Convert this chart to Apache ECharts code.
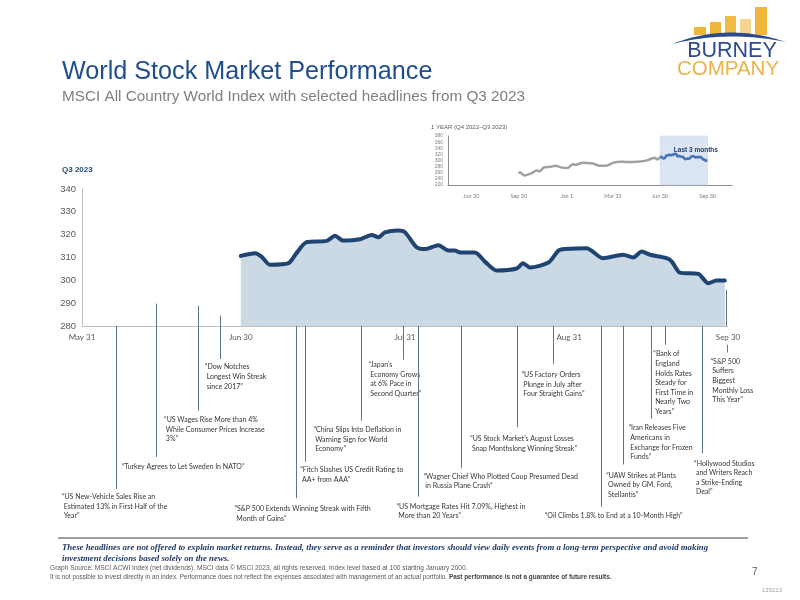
<!DOCTYPE html>
<html><head><meta charset="utf-8">
<script src="https://cdn.jsdelivr.net/npm/echarts@6/dist/echarts.min.js"></script>
<style>html,body{margin:0;padding:0;background:#fff}#c{width:800px;height:600px}</style>
</head><body><div id="c"></div>
<script>
// ---- Q3 2023 daily index level (day 0 = May 31, 2023) ----
const q3Days = [30, 32.7, 33.9, 35.5, 39, 40.5, 42.4, 46.2, 47.8, 49.3, 52.5, 54.7, 56, 57.2, 59.7, 61, 63.2, 64.8, 67.3, 69.2, 70.4, 71.4, 74.2, 76.1, 78.3, 82.1, 83.3, 84.6, 88.1, 90, 91.2, 95.3, 98.4, 102.2, 104.1, 105.7, 107.3, 110.4, 111.4, 112.9, 116.4, 118.3, 119.8, 121.4];
const q3Values = [310.7, 311.9, 310.4, 306.8, 307.5, 311.9, 316.7, 317.3, 319.5, 317.4, 318, 319.9, 318.9, 321, 321.8, 321, 314.5, 313.7, 315.4, 313.1, 313.1, 312.2, 312.2, 308.2, 304.3, 305.2, 307.5, 305.6, 307.8, 313.1, 313.7, 314.1, 309.7, 311.2, 310, 312.6, 311.2, 309.7, 308.2, 303.4, 302.8, 298.7, 299.9, 299.9];
const mainTickDays = [0, 30, 61, 92, 122];
const mainTickLabels = ['May 31', 'Jun 30', 'Jul 31', 'Aug 31', 'Sep 30'];

// ---- 1 year inset (day 0 = Jun 30, 2022) ----
const yearDays = [92, 94, 102, 117, 126, 133, 140, 153, 164, 173, 186, 196, 202, 215, 235, 248, 261, 275, 288, 301, 321, 340, 354, 360, 365];
const yearValues = [256.6, 262, 251.3, 258.7, 267, 265, 277.5, 279.6, 282.7, 277.5, 275.4, 288, 285.8, 293, 290, 282.7, 282.7, 293, 296.3, 295, 296.3, 300.5, 308.9, 303.6, 310.7];
const q3OffsetInYear = 335; // May 31, 2023 in inset days
const insetTickDays = [0, 92, 185, 274, 365, 457];
const insetTickLabels = ['Jun 30', 'Sep 30', 'Jan 1', 'Mar 31', 'Jun 30', 'Sep 30'];
const last3Months = [365, 457];

// ---- headlines ----
const headlines = [
  '\u201cUS New-Vehicle Sales Rise an\n Estimated 13% in First Half of the\n Year\u201d',
  '\u201cTurkey Agrees to Let Sweden In NATO\u201d',
  '\u201cUS Wages Rise More than 4%\n While Consumer Prices Increase\n 3%\u201d',
  '\u201cDow Notches\n Longest Win Streak\n since 2017\u201d',
  '\u201cS&P 500 Extends Winning Streak with Fifth\n Month of Gains\u201d',
  '\u201cFitch Slashes US Credit Rating to\n AA+ from AAA\u201d',
  '\u201cChina Slips Into Deflation in\n Warning Sign for World\n Economy\u201d',
  '\u201cJapan\u2019s\n Economy Grows\n at 6% Pace in\n Second Quarter\u201d',
  '\u201cUS Mortgage Rates Hit 7.09%, Highest in\n More than 20 Years\u201d',
  '\u201cWagner Chief Who Plotted Coup Presumed Dead\n in Russia Plane Crash\u201d',
  '\u201cUS Stock Market\u2019s August Losses\n Snap Monthslong Winning Streak\u201d',
  '\u201cUS Factory Orders\n Plunge in July after\n Four Straight Gains\u201d',
  '\u201cOil Climbs 1.8% to End at a 10-Month High\u201d',
  '\u201cUAW Strikes at Plants\n Owned by GM, Ford,\n Stellantis\u201d',
  '\u201cIran Releases Five\n Americans in\n Exchange for Frozen\n Funds\u201d',
  '\u201cBank of\n England\n Holds Rates\n Steady for\n First Time in\n Nearly Two\n Years\u201d',
  '\u201cHollywood Studios\n and Writers Reach\n a Strike-Ending\n Deal\u201d',
  '\u201cS&P 500\n Suffers\n Biggest\n Monthly Loss\n This Year\u201d',
  ''
];
const headlineDays = [6.4, 14.0, 22.0, 26.0, 40.5, 42.2, 52.7, 60.6, 63.4, 71.6, 82.1, 88.9, 98.0, 102.2, 107.5, 110.1, 117.1, 121.8, 121.6];
// leader line extents and label anchors, expressed on the chart's own scales
const leaderTop = [280, 289.7, 288.8, 284.5, 280, 280, 280, 280, 280, 280, 280, 280, 280, 280, 280, 280, 280, 271.7, 295.8];
const leaderBottom = [208.4, 222.5, 242.7, 265.4, 204.4, 220.4, 238.4, 265.1, 205.1, 217.5, 235.5, 263.3, 200.7, 219.2, 239.2, 271.7, 224.1, 268.3, 280];
const labelAtDay = [-3.8, 7.5, 15.5, 23.2, 28.8, 41.2, 43.7, 54.1, 59.4, 64.5, 73.3, 83.0, 87.4, 99.0, 103.2, 107.9, 115.6, 118.7, 0];
const labelAtLevel = [207.1, 220.3, 240.8, 264.0, 201.8, 218.9, 236.5, 265.0, 202.8, 216.0, 232.5, 260.6, 198.7, 216.4, 237.2, 269.7, 221.8, 266.4, 0];

const chart = echarts.init(document.getElementById('c'), null, {renderer: 'canvas'});

const annoData = headlineDays.map((d, i) => [d, leaderTop[i], leaderBottom[i], labelAtDay[i], labelAtLevel[i]]);

// logo swoosh (decoration)
function swoosh() {
  const pts = [];
  const q = (a, b, c, t) => (1 - t) * (1 - t) * a + 2 * (1 - t) * t * b + t * t * c;
  for (let k = 0; k <= 24; k++) { const t = k / 24; pts.push([q(672, 728, 786, t), q(44, 22, 42, t)]); }
  for (let k = 24; k >= 0; k--) { const t = k / 24; pts.push([q(672, 728, 786, t), q(44, 30, 42, t)]); }
  return pts;
}

const option = {
  backgroundColor: '#ffffff',
  animation: false,
  grid: [
    {left: 82, top: 189, width: 646, height: 137},
    {left: 82, top: 189, width: 646, height: 342},
    {left: 448, top: 136, width: 284, height: 49}
  ],
  xAxis: [
    {gridIndex: 0, type: 'value', min: 0, max: 122,
     axisLine: {onZero: false, lineStyle: {color: '#bfbfbf', width: 1}},
     axisTick: {show: false}, splitLine: {show: false},
     axisLabel: {customValues: mainTickDays, formatter: v => mainTickLabels[mainTickDays.indexOf(v)] || '',
                 color: '#595959', fontFamily: 'Lato', fontSize: 8, margin: 7}},
    {gridIndex: 1, type: 'value', min: 0, max: 122, show: false},
    {gridIndex: 2, type: 'value', min: -45, max: 504,
     axisLine: {onZero: false, lineStyle: {color: '#8c8c8c', width: 1}},
     axisTick: {show: false}, splitLine: {show: false},
     axisLabel: {customValues: insetTickDays, formatter: (v) => insetTickLabels[insetTickDays.indexOf(v)] || '',
                 color: '#7f7f7f', fontFamily: 'Lato', fontSize: 5.5, margin: 8}}
  ],
  yAxis: [
    {gridIndex: 0, type: 'value', min: 280, max: 340, interval: 10,
     axisLine: {show: true, onZero: false, lineStyle: {color: '#bfbfbf', width: 1}},
     axisTick: {show: false}, splitLine: {show: false},
     axisLabel: {color: '#595959', fontFamily: 'Liberation Sans', fontSize: 9.5, margin: 6}},
    {gridIndex: 1, type: 'value', min: 190, max: 340, show: false},
    {gridIndex: 2, type: 'value', min: 220, max: 380, interval: 20,
     axisLine: {show: true, onZero: false, lineStyle: {color: '#8c8c8c', width: 1}},
     axisTick: {show: false}, splitLine: {show: false},
     axisLabel: {color: '#7f7f7f', fontFamily: 'Liberation Sans', fontSize: 5, margin: 5}}
  ],
  series: [
    {type: 'line', xAxisIndex: 0, yAxisIndex: 0, symbol: 'none', smooth: 0.25,
     data: q3Days.map((d, i) => [d, q3Values[i]]),
     lineStyle: {color: '#1f4471', width: 4, cap: 'round', join: 'round'},
     areaStyle: {color: '#cad9e4', opacity: 1, origin: 'start'}, z: 3},
    {type: 'custom', xAxisIndex: 1, yAxisIndex: 1, clip: false, z: 5,
     data: annoData,
     renderItem: function (params, api) {
       const i = params.dataIndex;
       const p1 = api.coord([api.value(0), api.value(1)]);
       const p2 = api.coord([api.value(0), api.value(2)]);
       const children = [{type: 'line', shape: {x1: Math.round(p1[0]) + 0.5, y1: p1[1], x2: Math.round(p2[0]) + 0.5, y2: p2[1]},
                          style: {stroke: '#5f7485', lineWidth: 1}}];
       if (headlines[i]) {
         const t = api.coord([api.value(3), api.value(4)]);
         children.push({type: 'text', x: t[0], y: t[1],
           style: {text: headlines[i], fill: '#363636', font: '7px Lato', lineHeight: 9.6,
                   align: 'left', verticalAlign: 'top'}});
       }
       return {type: 'group', children: children};
     }},
    {type: 'line', xAxisIndex: 2, yAxisIndex: 2, symbol: 'none', smooth: 0.2,
     data: yearDays.map((d, i) => [d, yearValues[i]]),
     lineStyle: {color: '#a0a0a0', width: 2.5}},
    {type: 'line', xAxisIndex: 2, yAxisIndex: 2, symbol: 'none', smooth: 0.2,
     data: q3Days.map((d, i) => [d + q3OffsetInYear, q3Values[i]]),
     lineStyle: {color: '#4472b4', width: 2.5},
     markArea: {silent: true, itemStyle: {color: '#dbe5f1', borderColor: '#c6d5e8', borderWidth: 0.5},
       label: {show: true, position: 'insideTopLeft', offset: [9, 6], formatter: 'Last 3 months',
               color: '#1f3f73', fontWeight: 'bold', fontFamily: 'Liberation Sans', fontSize: 6.5},
       data: [[{xAxis: last3Months[0]}, {xAxis: last3Months[1]}]]}}
  ],
  graphic: [
    {type: 'text', x: 62, y: 72, style: {text: 'World Stock Market Performance', font: '25.2px "Liberation Sans"', fill: '#1f4e8f', verticalAlign: 'middle'}},
    {type: 'text', x: 62, y: 97, style: {text: 'MSCI All Country World Index with selected headlines from Q3 2023', font: '15.3px "Liberation Sans"', fill: '#7f7f7f', verticalAlign: 'middle'}},
    {type: 'text', x: 62, y: 170, style: {text: 'Q3 2023', font: 'bold 8px "Liberation Sans"', fill: '#1f4e79', verticalAlign: 'middle'}},
    {type: 'text', x: 431, y: 127, style: {text: '1 YEAR (Q4 2022\u2013Q3 2023)', font: '6px "Liberation Sans"', fill: '#595959', verticalAlign: 'middle'}},
    // logo
    {type: 'rect', shape: {x: 694, y: 27, width: 12, height: 8}, style: {fill: '#efb63a'}},
    {type: 'rect', shape: {x: 710, y: 22, width: 11, height: 13}, style: {fill: '#efb63a'}},
    {type: 'rect', shape: {x: 725, y: 16, width: 11, height: 19}, style: {fill: '#f0ba45'}},
    {type: 'rect', shape: {x: 740, y: 19, width: 11, height: 16}, style: {fill: '#f6d590'}},
    {type: 'rect', shape: {x: 755, y: 7, width: 12, height: 28}, style: {fill: '#efb63a'}},
    {type: 'polygon', shape: {points: swoosh()}, style: {fill: '#2c4a8c'}},
    {type: 'text', x: 732, y: 51, style: {text: 'BURNEY', font: '21.5px "Liberation Sans"', fill: '#2d4b8e', align: 'center', verticalAlign: 'middle'}},
    {type: 'text', x: 728, y: 69, style: {text: 'COMPANY', font: '20.5px "Liberation Sans"', fill: '#e8b34a', align: 'center', verticalAlign: 'middle'}},
    // footer
    {type: 'line', shape: {x1: 58, y1: 538, x2: 748, y2: 538}, style: {stroke: '#808080', lineWidth: 1.5}},
    {type: 'text', x: 62, y: 548, style: {text: 'These headlines are not offered to explain market returns. Instead, they serve as a reminder that investors should view daily events from a long-term perspective and avoid making', font: 'italic bold 8.8px "Liberation Serif"', fill: '#1f3864', verticalAlign: 'middle'}},
    {type: 'text', x: 62, y: 559, style: {text: 'investment decisions based solely on the news.', font: 'italic bold 8.8px "Liberation Serif"', fill: '#1f3864', verticalAlign: 'middle'}},
    {type: 'text', x: 50, y: 568, style: {text: 'Graph Source: MSCI ACWI Index (net dividends). MSCI data \u00a9 MSCI 2023, all rights reserved. Index level based at 100 starting January 2000.', font: '6.6px "Liberation Sans"', fill: '#595959', verticalAlign: 'middle'}},
    {type: 'text', x: 50, y: 577, style: {text: '{n|It is not possible to invest directly in an index. Performance does not reflect the expenses associated with management of an actual portfolio. }{b|Past performance is not a guarantee of future results.}',
      rich: {n: {font: '6.4px "Liberation Sans"', fill: '#595959'}, b: {font: 'bold 6.4px "Liberation Sans"', fill: '#404040'}}, verticalAlign: 'middle'}},
    {type: 'text', x: 752, y: 572, style: {text: '7', font: '10px "Liberation Sans"', fill: '#595959', verticalAlign: 'middle'}},
    {type: 'text', x: 762, y: 590, style: {text: '135213', font: '6px "Liberation Sans"', fill: '#a0a0a0', verticalAlign: 'middle'}}
  ]
};
chart.setOption(option);
</script></body></html>
